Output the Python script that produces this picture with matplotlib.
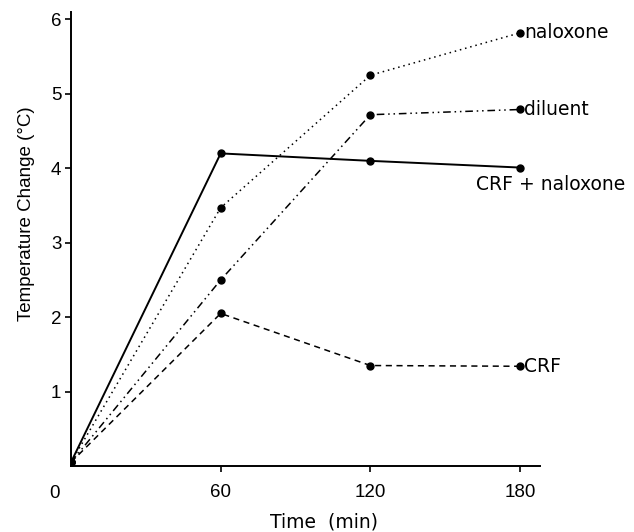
import matplotlib
matplotlib.use("Agg")
import matplotlib.pyplot as plt

plt.rcParams['font.family'] = ['Liberation Sans', 'DejaVu Sans']

time = [0, 60, 120, 180]
naloxone = [0.05, 3.47, 5.25, 5.82]
diluent = [0.05, 2.50, 4.72, 4.79]
crf_naloxone = [0.05, 4.20, 4.10, 4.01]
crf = [0.05, 2.05, 1.35, 1.34]
series_labels = ["naloxone", "diluent", "CRF + naloxone", "CRF"]
xticks = [60, 120, 180]
yticks = [1, 2, 3, 4, 5, 6]

W, H = 634, 532
fig = plt.figure(figsize=(W / 100, H / 100), dpi=100)
ax = fig.add_axes([71 / W, 1 - 466 / H, (540 - 71) / W, (466 - 12) / H])
ax.set_xlim(0, 188)
ax.set_ylim(0, 6.1)

lw = 1.1
ms = 5
ax.plot(time, naloxone, color='black', lw=lw, linestyle=(0, (1, 2.5)),
        marker='o', ms=ms)
ax.plot(time, diluent, color='black', lw=lw, linestyle=(0, (5, 2.5, 1, 2.5, 1, 2.5)),
        marker='o', ms=ms)
ax.plot(time, crf_naloxone, color='black', lw=1.4, linestyle='-',
        marker='o', ms=ms)
ax.plot(time, crf, color='black', lw=lw, linestyle=(0, (4, 3)),
        marker='o', ms=ms)

fs = 13.5
lab = dict(textcoords='offset points', va='center', ha='left', fontsize=fs,
           family='DejaVu Sans')
ax.annotate(series_labels[0], (time[-1], naloxone[-1]), xytext=(3, 0), **lab)
ax.annotate(series_labels[1], (time[-1], diluent[-1]), xytext=(3, 0), **lab)
ax.annotate(series_labels[2], (time[-1], crf_naloxone[-1]), xytext=(-32, -12), **lab)
ax.annotate(series_labels[3], (time[-1], crf[-1]), xytext=(3, 0), **lab)

for s in ['top', 'right']:
    ax.spines[s].set_visible(False)
for s in ['left', 'bottom']:
    ax.spines[s].set_linewidth(1.4)

ax.set_xticks(xticks)
ax.set_yticks(yticks)
ax.tick_params(axis='both', direction='out', length=4, width=1.2, labelsize=fs)
ax.tick_params(axis='x', pad=9)
ax.tick_params(axis='y', pad=3)

fig.text(55 / W, 1 - 493 / H, "0", fontsize=fs, ha='center', va='center')
fig.text(324 / W, 1 - 522 / H, "Time  (min)", fontsize=fs, ha='center', va='center',
         family='DejaVu Sans')
fig.text(27 / W, 1 - 214 / H, "Temperature Change (\u00b0C)", fontsize=fs,
         ha='center', va='center', rotation=90)

fig.savefig("out.png", dpi=100)
